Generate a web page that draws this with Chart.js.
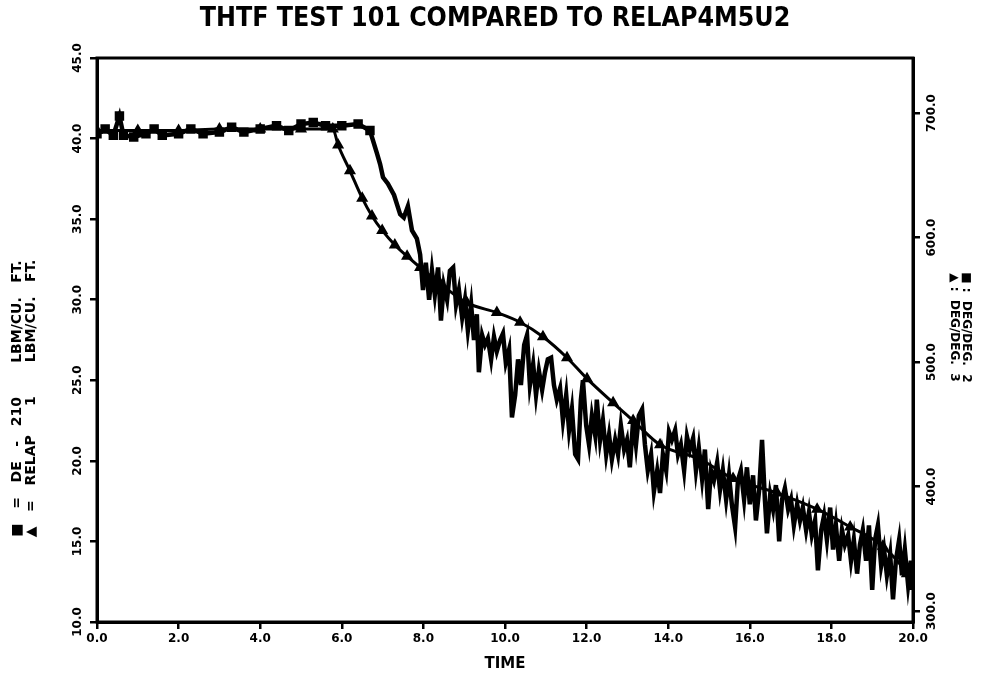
<!DOCTYPE html>
<html>
<head>
<meta charset="utf-8">
<script src="https://cdn.jsdelivr.net/npm/chart.js@4.4.1/dist/chart.umd.min.js"></script>
<style>
  html, body { margin: 0; padding: 0; background: #fff; }
  #wrap { width: 990px; height: 673px; }
</style>
</head>
<body>
<div id="wrap"><canvas id="c" width="990" height="673"></canvas></div>
<script>
// THTF test 101 vs RELAP4M5U2
const chartTitle = 'THTF TEST 101 COMPARED TO RELAP4M5U2';
const xTicks = [0, 2, 4, 6, 8, 10, 12, 14, 16, 18, 20];
const leftTicks = [10, 15, 20, 25, 30, 35, 40, 45];
const rightTicks = [300, 400, 500, 600, 700];
const rightMin = 291.2, rightMax = 744.2;

// measured (DE-210), square symbols
const measTime = [
  0, 0.2, 0.4, 0.55, 0.65, 0.9, 1.2, 1.4, 1.6, 2.0, 2.3, 2.6, 3.0, 3.3, 3.6, 4.0, 4.4, 4.7, 5.0, 5.3, 5.6, 6.0, 6.4, 6.69,
  6.86, 6.94, 7.01, 7.13, 7.28, 7.43, 7.52, 7.62, 7.72, 7.84,
  7.92, 7.99, 8.06, 8.14, 8.21, 8.28, 8.36, 8.43, 8.50, 8.58, 8.65, 8.73, 8.80, 8.87, 8.95, 9.02, 9.09, 9.17, 9.24, 9.31,
  9.36, 9.44, 9.51, 9.58, 9.66, 9.73, 9.80, 9.88, 9.95, 10.02, 10.10, 10.17, 10.25, 10.32, 10.39, 10.47, 10.54, 10.61,
  10.69, 10.76, 10.83, 10.91, 10.98, 11.05, 11.13, 11.20, 11.27, 11.35, 11.42, 11.50, 11.57, 11.64, 11.72, 11.79, 11.86,
  11.91, 11.99, 12.06, 12.13, 12.21, 12.25, 12.33, 12.40, 12.48, 12.55, 12.62, 12.70, 12.77, 12.84, 12.92, 12.99, 13.06,
  13.14, 13.21, 13.28, 13.36, 13.43, 13.50, 13.58, 13.65, 13.73, 13.80, 13.87, 13.95, 14.02, 14.09, 14.17, 14.24, 14.31,
  14.39, 14.46, 14.53, 14.61, 14.68, 14.75, 14.83, 14.90, 14.98, 15.05, 15.12, 15.20, 15.27, 15.34, 15.42, 15.49, 15.56,
  15.64, 15.71, 15.78, 15.86, 15.93, 16.00, 16.08, 16.15, 16.23, 16.30, 16.37, 16.42, 16.50, 16.57, 16.64, 16.72, 16.79,
  16.86, 16.94, 17.01, 17.08, 17.16, 17.23, 17.30, 17.38, 17.45, 17.52, 17.60, 17.67, 17.75, 17.82, 17.89, 17.97, 18.04,
  18.11, 18.19, 18.26, 18.33, 18.41, 18.48, 18.55, 18.63, 18.70, 18.77, 18.85, 18.92, 19.00, 19.07, 19.14, 19.22, 19.29,
  19.36, 19.44, 19.51, 19.58, 19.66, 19.73, 19.80, 19.88, 19.95, 20.00
];
const measValue = [
  40.3, 40.6, 40.2, 41.4, 40.2, 40.1, 40.3, 40.6, 40.2, 40.3, 40.6, 40.3, 40.4, 40.7, 40.4, 40.6, 40.8, 40.5, 40.9, 41.0, 40.8, 40.8, 40.9, 40.5,
  39.1, 38.4, 37.6, 37.2, 36.5, 35.3, 35.1, 35.8, 34.3, 33.8,
  32.8, 30.6, 32.3, 30.0, 31.8, 30.3, 32.0, 28.7, 30.9, 30.0, 31.8, 32.0, 29.7, 30.6, 28.9, 30.0, 28.1, 29.7, 27.5, 29.1,
  25.5, 27.8, 27.2, 27.6, 26.3, 27.7, 26.8, 27.5, 27.9, 26.1, 26.9, 22.7, 24.1, 26.3, 24.7, 27.2, 27.8, 24.7,
  26.0, 24.1, 25.6, 24.4, 25.5, 26.3, 26.4, 24.7, 23.8, 24.5, 22.5, 24.1, 21.9, 23.2, 20.4, 20.1, 23.8,
  25.0, 22.2, 21.0, 22.8, 21.6, 23.8, 21.3, 22.5, 20.4, 21.6, 20.1, 21.3, 20.4, 22.2, 20.7, 21.3, 19.6,
  22.5, 21.0, 22.8, 23.2, 21.0, 19.4, 20.4, 18.1, 19.4, 18.0, 20.4, 19.4, 21.8, 21.3, 21.9, 20.4, 21.0,
  19.4, 21.5, 20.7, 21.4, 19.4, 20.8, 18.9, 20.7, 17.0, 19.4, 18.8, 19.9, 18.2, 19.4, 17.6, 19.1, 17.3,
  15.9, 18.8, 19.4, 17.6, 19.6, 17.3, 19.1, 16.3, 18.2, 21.3, 17.6, 15.5, 17.9, 17.0, 18.5, 15.0, 17.6,
  18.3, 17.0, 17.6, 16.0, 17.3, 16.3, 17.1, 15.7, 16.8, 15.4, 16.3, 13.2, 15.7, 16.6, 15.1, 17.1, 14.5,
  16.0, 13.8, 15.7, 14.8, 15.4, 13.8, 15.1, 13.0, 14.8, 15.7, 13.8, 16.0, 12.0, 15.1, 16.0, 13.5, 14.5,
  12.9, 14.2, 11.4, 13.8, 15.1, 12.9, 14.5, 12.3, 13.8, 12.0
];

// RELAP4M5U2 calculation, triangle symbols
const relapTime = [0, 1, 2, 3, 4, 5, 5.78, 5.91, 6.20, 6.50, 6.74, 6.99, 7.30, 7.60, 7.92, 8.41, 9.07, 9.80, 10.37,
  10.93, 11.52, 12.01, 12.65, 13.14, 13.80, 14.78, 15.59, 16.67, 17.65, 18.46, 19.26, 19.85, 20.0];
const relapValue = [40.5, 40.5, 40.5, 40.6, 40.6, 40.6, 40.6, 39.6, 38.0, 36.3, 35.2, 34.3, 33.4, 32.7, 32.0, 31.0,
  29.8, 29.2, 28.6, 27.7, 26.4, 25.1, 23.6, 22.5, 21.0, 20.1, 18.9, 18.0, 17.0, 15.9, 14.7, 13.0, 12.2];

Chart.defaults.font.family = "'DejaVu Sans', sans-serif";
Chart.defaults.font.weight = 'bold';
Chart.defaults.color = '#000';

const frame = {
  id: 'frame',
  afterDatasetsDraw(chart) {
    const { ctx, chartArea: a } = chart;
    ctx.save();
    ctx.strokeStyle = '#000';
    ctx.lineWidth = 3;
    ctx.strokeRect(a.left, a.top, a.right - a.left, a.bottom - a.top);
    ctx.restore();
  }
};

const tickGrid = { drawOnChartArea: false, drawTicks: true, tickLength: 7, color: '#000', lineWidth: 2.5 };
const axisBorder = { display: true, color: '#000', width: 3 };

new Chart(document.getElementById('c'), {
  type: 'line',
  data: {
    datasets: [{
      label: 'DE-210',
      data: measTime.map((t, i) => ({ x: t, y: measValue[i] })),
      borderColor: '#000',
      borderWidth: 4.5,
      backgroundColor: '#000',
      pointStyle: 'rect',
      pointRadius: ctx => (measTime[ctx.dataIndex] < 6.7 ? 3.5 : 0),
      tension: 0,
      yAxisID: 'y'
    }, {
      label: 'RELAP',
      data: relapTime.map((t, i) => ({ x: t, y: relapValue[i] })),
      borderColor: '#000',
      borderWidth: 3,
      backgroundColor: '#000',
      pointStyle: 'triangle',
      pointRadius: 4,
      cubicInterpolationMode: 'monotone',
      yAxisID: 'y'
    }]
  },
  options: {
    responsive: false,
    animation: false,
    layout: { padding: 0 },
    scales: {
      x: {
        type: 'linear',
        min: 0,
        max: 20,
        afterBuildTicks: s => { s.ticks = xTicks.map(v => ({ value: v })); },
        afterFit: s => { s.height = 51; },
        ticks: { font: { size: 12 }, padding: 3, maxRotation: 0, callback: v => v.toFixed(1) },
        grid: tickGrid,
        border: axisBorder,
        title: { display: true, text: 'TIME', font: { size: 15 }, padding: { top: 0, bottom: 0 } }
      },
      y: {
        position: 'left',
        min: 10,
        max: 45,
        afterBuildTicks: s => { s.ticks = leftTicks.map(v => ({ value: v })); },
        afterFit: s => { s.width = 97; },
        ticks: { font: { size: 12 }, minRotation: 90, maxRotation: 90, crossAlign: 'center', padding: -3, callback: v => v.toFixed(1) },
        grid: tickGrid,
        border: axisBorder,
        title: {
          display: true,
          text: ['\u25A0   =   DE   -   210       LBM/CU.   FT.' + ' '.repeat(24), '\u25B2   =   RELAP      1       LBM/CU.   FT.' + ' '.repeat(24)],
          font: { size: 14, lineHeight: 1.0 },
          padding: { top: 10, bottom: 0 }
        }
      },
      y2: {
        position: 'right',
        min: rightMin,
        max: rightMax,
        afterBuildTicks: s => { s.ticks = rightTicks.map(v => ({ value: v })); },
        afterFit: s => { s.width = 77; },
        ticks: { font: { size: 12 }, minRotation: 90, maxRotation: 90, crossAlign: 'center', padding: -7, callback: v => v.toFixed(1) },
        grid: tickGrid,
        border: axisBorder,
        title: {
          display: true,
          text: ['\u25A0 :  DEG/DEG.  2' + ' '.repeat(6), '\u25B2 :  DEG/DEG.  3' + ' '.repeat(6)],
          font: { size: 12, lineHeight: 1.0 },
          padding: { top: 18, bottom: 0 }
        }
      }
    },
    plugins: {
      legend: { display: false },
      tooltip: { enabled: false },
      title: {
        display: true,
        text: chartTitle,
        font: { family: "'DejaVu Sans Condensed', 'DejaVu Sans', sans-serif", size: 26.5, weight: 'bold', lineHeight: 1.2 },
        padding: { top: 3, bottom: 23.2 }
      }
    }
  },
  plugins: [frame]
});
</script>
</body>
</html>
